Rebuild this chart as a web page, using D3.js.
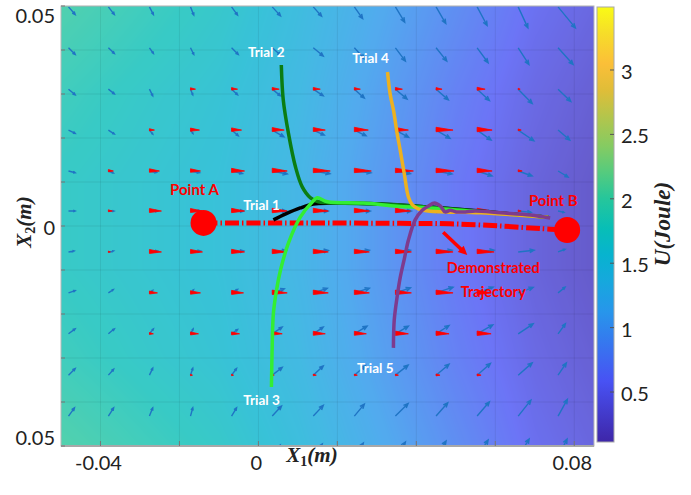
<!DOCTYPE html>
<html>
<head>
<meta charset="UTF-8">
<script src="https://cdn.jsdelivr.net/npm/d3@7/dist/d3.min.js"></script>
<style>
  body { margin: 0; background: #fff; }
  svg { display: block; }
  .tick-label { font-family: Lato, "Open Sans", sans-serif; font-size: 20px; fill: #222; }
  .math { font-family: "Liberation Serif", "DejaVu Serif", serif; font-weight: bold; font-style: italic; fill: #222; }
  .note { font-family: Lato, "Open Sans", sans-serif; font-weight: bold; }
</style>
</head>
<body>
<svg id="chart" width="691" height="495"></svg>
<script>
// ---- axes ----
const xTicks = [-0.04, -0.02, 0, 0.02, 0.04, 0.06, 0.08];
const xTickLabels = ["-0.04", "", "0", "", "", "", "0.08"];
const yTicks = [-0.05, -0.04, -0.03, -0.02, -0.01, 0, 0.01, 0.02, 0.03, 0.04, 0.05];
const yTickLabels = { "0.05": "0.05", "0": "0", "-0.05": "0.05" };
const cTicks = [0.5, 1, 1.5, 2, 2.5, 3];

// ---- potential field U (Joule), sampled on a coarse grid ----
const uGridX = [-0.05, -0.03, -0.01, 0.01, 0.03, 0.05, 0.07, 0.085];
const uGridY = [0.05, 0.03, 0.01, -0.01, -0.03, -0.05];
const uValues = [
  [2.00, 1.85, 1.70, 1.45, 1.15, 0.85, 0.55, 0.42],
  [1.85, 1.72, 1.60, 1.38, 1.05, 0.72, 0.45, 0.32],
  [1.75, 1.65, 1.55, 1.32, 0.98, 0.64, 0.38, 0.25],
  [1.75, 1.65, 1.55, 1.32, 0.98, 0.64, 0.38, 0.25],
  [1.85, 1.72, 1.60, 1.38, 1.05, 0.72, 0.45, 0.32],
  [2.02, 1.87, 1.72, 1.48, 1.17, 0.85, 0.53, 0.40]
];

// ---- quiver grid (blue: learned field, red: demonstration field), components in mm ----
const qCols = [-0.0481, -0.0380, -0.0276, -0.0172, -0.0068, 0.0035, 0.0139, 0.0243, 0.0347, 0.0450, 0.0554, 0.0658, 0.0759];
const qRows = [0.0498, 0.0405, 0.0311, 0.0218, 0.0125, 0.0034, -0.0059, -0.0152, -0.0245, -0.0339, -0.0432, -0.0525];
const blueU = [
  [1.70, 1.52, 1.01, 0.84, 1.52, 2.10, 2.10, 2.10, 2.35, 2.46, 2.53, 2.46, 4.38],
  [1.70, 1.52, 1.01, 0.84, 1.70, 2.15, 2.53, 2.53, 2.53, 2.71, 2.78, 2.71, 3.80],
  [1.70, 1.52, 0.84, 0.58, 1.52, 2.10, 2.53, 2.53, 2.96, 3.11, 3.11, 3.54, 3.22],
  [1.70, 1.52, 0.84, 0.63, 1.70, 2.96, 2.78, 2.96, 3.37, 3.54, 3.54, 3.97, 2.96],
  [1.70, 1.27, 1.77, 2.28, 2.78, 3.80, 4.23, 4.23, 3.80, 4.05, 3.80, 3.54, 2.53],
  [1.70, 1.44, 2.03, 2.53, 3.04, 3.54, 3.80, 4.05, 4.05, 4.05, 3.80, 3.29, 1.50],
  [1.44, 1.34, 2.03, 2.53, 3.04, 3.54, 3.80, 3.80, 3.80, 4.05, 4.30, 4.05, 1.77],
  [1.70, 1.27, 0.84, 0.76, 1.52, 3.04, 3.54, 3.80, 3.80, 4.30, 4.05, 3.80, 1.77],
  [1.70, 1.52, 1.01, 0.68, 1.52, 2.53, 2.53, 3.22, 3.29, 3.29, 3.97, 3.80, 1.85],
  [1.70, 1.34, 0.84, 0.58, 1.27, 2.53, 2.53, 2.78, 3.22, 3.29, 3.37, 3.54, 2.10],
  [1.52, 1.34, 0.84, 0.58, 1.27, 2.35, 2.53, 2.53, 3.22, 2.96, 3.11, 3.22, 2.35],
  [1.27, 1.27, 0.76, 0.51, 1.27, 2.03, 2.28, 2.28, 2.53, 2.53, 2.78, 2.78, 2.28]
];
const blueV = [
  [-1.75, -1.75, -1.75, -1.88, -1.88, -2.04, -2.11, -2.66, -3.47, -3.79, -4.24, -4.77, -4.77],
  [-1.52, -1.29, -1.29, -1.52, -1.52, -1.70, -1.88, -2.50, -3.02, -3.02, -3.40, -3.79, -3.79],
  [-1.29, -1.07, -1.52, -1.29, -1.29, -1.52, -1.52, -2.04, -2.27, -2.43, -2.57, -3.25, -2.79],
  [-0.75, -0.91, -0.91, -0.79, -1.29, -1.52, -1.13, -1.29, -1.66, -1.88, -2.27, -2.43, -2.27],
  [-0.39, -0.45, -0.34, -0.39, -0.57, -0.68, -0.61, -0.39, -0.61, -0.68, -1.13, -1.13, -1.36],
  [0, 0, 0, 0, 0, 0, 0, 0, 0, -0.10, -0.20, -0.30, -0.30],
  [0.23, 0.23, 0.23, 0.23, 0.23, 0.34, 0.34, 0.39, 0.39, 0.39, 0.39, 0.39, 0.61],
  [0.52, 0.75, 0.57, 0.68, 0.79, 0.91, 1.02, 1.07, 1.13, 1.29, 1.29, 1.25, 1.29],
  [1.13, 1.13, 1.13, 1.13, 0.98, 1.52, 1.52, 1.75, 1.75, 1.88, 2.04, 2.27, 2.27],
  [1.52, 1.36, 1.59, 1.59, 1.52, 1.75, 2.11, 2.16, 2.27, 2.50, 2.66, 2.79, 2.79],
  [1.88, 1.88, 1.88, 1.88, 1.88, 2.27, 2.43, 2.72, 2.88, 3.02, 3.25, 3.63, 3.79],
  [2.04, 2.04, 2.04, 2.04, 2.27, 2.72, 2.95, 3.18, 3.40, 3.63, 3.86, 4.09, 4.09]
];
const redU = [
  [0, 0, 0, 0, 0, 0, 0, 0, 0, 0, 0, 0, 0],
  [0, 0, 0, 0, 0, 0, 0, 0, 0, 0, 0, 0, 0],
  [0, 0, 0, 1.27, 1.52, 1.77, 1.77, 1.52, 1.77, 1.52, 2.03, 0.50, 0],
  [0, 0, 1.27, 2.28, 2.53, 3.04, 3.04, 3.54, 3.29, 4.30, 3.80, 0.76, 0],
  [0, 1.27, 2.53, 2.53, 3.29, 3.80, 4.30, 4.30, 4.56, 4.56, 3.80, 1.00, 0],
  [0, 1.00, 3.04, 3.04, 3.29, 3.80, 3.80, 3.80, 3.80, 3.80, 3.80, 0.76, 0],
  [0, 0.50, 3.04, 3.04, 3.29, 3.54, 3.80, 3.80, 4.05, 4.30, 4.30, 0, 0],
  [0, 0, 2.03, 2.53, 3.04, 3.80, 3.80, 3.80, 4.05, 4.30, 3.54, 0, 0],
  [0, 0, 1.00, 2.03, 2.03, 2.53, 3.04, 3.04, 3.29, 3.29, 3.54, 0, 0],
  [0, 0, 0, 0.50, 0.50, 0.50, 0.76, 0.76, 0.76, 1.00, 1.00, 0, 0],
  [0, 0, 0, 0, 0, 0, 0, 0, 0, 0, 0, 0, 0],
  [0, 0, 0, 0, 0, 0, 0, 0, 0, 0, 0, 0, 0]
];

// ---- trajectories ----
const demoX = [-0.0139, 0.0106, 0.0359, 0.0486, 0.0613, 0.0714, 0.0782];
const demoY = [0.0007, 0.0007, 0.0006, 0.0005, 0.0000, -0.0006, -0.0009];
const trial1X = [0.0038, 0.0068, 0.0106, 0.0139, 0.0182, 0.0309, 0.0435, 0.0562, 0.0734];
const trial1Y = [0.0014, 0.0027, 0.0041, 0.0050, 0.0052, 0.0050, 0.0043, 0.0034, 0.0020];
const trial2X = [0.0058, 0.0063, 0.0076, 0.0094, 0.0111, 0.0132, 0.0152, 0.0208, 0.0359, 0.0486, 0.0734];
const trial2Y = [0.0366, 0.0286, 0.0211, 0.0134, 0.0089, 0.0064, 0.0055, 0.0052, 0.0048, 0.0039, 0.0020];
const trial3X = [0.0033, 0.0035, 0.0038, 0.0046, 0.0056, 0.0076, 0.0106, 0.0137, 0.0149, 0.0175, 0.0266, 0.0352, 0.0435, 0.0734];
const trial3Y = [-0.0366, -0.0270, -0.0198, -0.0145, -0.0100, -0.0039, 0.0020, 0.0055, 0.0064, 0.0055, 0.0052, 0.0045, 0.0041, 0.0020];
const trial4X = [0.0327, 0.0334, 0.0342, 0.0352, 0.0359, 0.0370, 0.0380, 0.0390, 0.0405, 0.0430, 0.0473, 0.0562, 0.0734];
const trial4Y = [0.0350, 0.0298, 0.0264, 0.0207, 0.0173, 0.0116, 0.0066, 0.0048, 0.0039, 0.0034, 0.0032, 0.0030, 0.0020];
const trial5X = [0.0342, 0.0344, 0.0352, 0.0359, 0.0370, 0.0380, 0.0397, 0.0415, 0.0430, 0.0446, 0.0461, 0.0473, 0.0486, 0.0501, 0.0524, 0.0549, 0.0613, 0.0689, 0.0739];
const trial5Y = [-0.0277, -0.0214, -0.0157, -0.0118, -0.0073, -0.0032, 0.0014, 0.0036, 0.0045, 0.0052, 0.0045, 0.0032, 0.0036, 0.0032, 0.0032, 0.0034, 0.0030, 0.0025, 0.0018];
const pointA = [-0.0139, 0.0007];
const pointB = [0.0782, -0.0009];

const trials = [
  { x: trial1X, y: trial1Y, color: "#000000" },
  { x: trial2X, y: trial2Y, color: "#0b7d12" },
  { x: trial3X, y: trial3Y, color: "#33ee33" },
  { x: trial4X, y: trial4Y, color: "#edb120" },
  { x: trial5X, y: trial5Y, color: "#7e3b8e" }
];

const labels = [
  { text: "Trial 1", x: 0.0008, y: 0.0048, color: "#fff", size: 13.5 },
  { text: "Trial 2", x: 0.0020, y: 0.0395, color: "#fff", size: 13.5 },
  { text: "Trial 4", x: 0.0284, y: 0.0382, color: "#fff", size: 13.5 },
  { text: "Trial 3", x: 0.0008, y: -0.0395, color: "#fff", size: 13.5 },
  { text: "Trial 5", x: 0.0296, y: -0.0323, color: "#fff", size: 13.5 },
  { text: "Point A", x: -0.0162, y: 0.0084, color: "#ff0000", size: 15 },
  { text: "Point B", x: 0.0747, y: 0.0059, color: "#ff0000", size: 15 },
  { text: "Demonstrated", x: 0.0595, y: -0.0095, color: "#ff0000", size: 14.5 },
  { text: "Trajectory", x: 0.0595, y: -0.0148, color: "#ff0000", size: 14.5 }
];
const pointerFrom = [0.0468, -0.0014];
const pointerTo = [0.0529, -0.0066];

// parula-like colour map (fraction, colour)
const parula = [
  [0.00, "#3e26a8"], [0.14, "#4852f4"], [0.30, "#2796eb"], [0.37, "#16a8dd"],
  [0.43, "#07b3cf"], [0.49, "#07beb7"], [0.56, "#26c69b"], [0.62, "#55cb7e"],
  [0.68, "#85cb62"], [0.75, "#b5c54b"], [0.81, "#e0bd38"], [0.87, "#fbbf38"],
  [0.94, "#f6dd29"], [1.00, "#f9fb15"]
];
const cMin = 0.112, cMax = 3.489;

// ---- layout ----
const svg = d3.select("#chart");
const x = d3.scaleLinear().domain([-0.05, 0.085]).range([61, 594]);
const y = d3.scaleLinear().domain([-0.05, 0.05]).range([446, 6]);
const color = d3.scaleLinear()
  .domain(parula.map(d => cMin + d[0] * (cMax - cMin)))
  .range(parula.map(d => d[1]))
  .interpolate(d3.interpolateRgb)
  .clamp(true);

const defs = svg.append("defs");
defs.append("clipPath").attr("id", "clip")
  .append("rect").attr("x", 61).attr("y", 6).attr("width", 533).attr("height", 440);

// heat map
const pw = 533, ph = 440;
const canvas = document.createElement("canvas");
canvas.width = pw; canvas.height = ph;
const ctx = canvas.getContext("2d");
const img = ctx.createImageData(pw, ph);
const colIdx = d3.scaleLinear().domain(uGridX).range(d3.range(uGridX.length)).clamp(true);
const rowIdx = d3.scaleLinear().domain(uGridY).range(d3.range(uGridY.length)).clamp(true);
for (let j = 0; j < ph; j++) {
  const fr = rowIdx(y.invert(6 + j + 0.5));
  const r0 = Math.min(Math.floor(fr), uGridY.length - 2), tr = fr - r0;
  for (let i = 0; i < pw; i++) {
    const fc = colIdx(x.invert(61 + i + 0.5));
    const c0 = Math.min(Math.floor(fc), uGridX.length - 2), tc = fc - c0;
    const u = (uValues[r0][c0] * (1 - tc) + uValues[r0][c0 + 1] * tc) * (1 - tr) +
              (uValues[r0 + 1][c0] * (1 - tc) + uValues[r0 + 1][c0 + 1] * tc) * tr;
    const c = d3.rgb(color(u));
    const k = (j * pw + i) * 4;
    img.data[k] = c.r; img.data[k + 1] = c.g; img.data[k + 2] = c.b; img.data[k + 3] = 255;
  }
}
ctx.putImageData(img, 0, 0);
svg.append("image")
  .attr("x", 61).attr("y", 6).attr("width", pw).attr("height", ph)
  .attr("opacity", 0.8)
  .attr("href", canvas.toDataURL());

// grid
const grid = svg.append("g").attr("stroke", "#000").attr("stroke-opacity", 0.07).attr("stroke-width", 1);
grid.selectAll(".gx").data(xTicks).join("line")
  .attr("x1", d => x(d)).attr("x2", d => x(d)).attr("y1", 6).attr("y2", 446);
grid.selectAll(".gy").data(yTicks).join("line")
  .attr("y1", d => y(d)).attr("y2", d => y(d)).attr("x1", 61).attr("x2", 594);

// quiver arrows
const field = svg.append("g").attr("clip-path", "url(#clip)");
const cells = [];
qRows.forEach((yv, r) => qCols.forEach((xv, c) => cells.push({ xv, yv, r, c })));

field.append("g").selectAll("path").data(cells).join("path")
  .attr("fill", "none").attr("stroke", "#1f74c4").attr("stroke-width", 1.4)
  .attr("d", d => {
    const x0 = x(d.xv), y0 = y(d.yv);
    const x1 = x(d.xv + blueU[d.r][d.c] * 1e-3), y1 = y(d.yv + blueV[d.r][d.c] * 1e-3);
    const a = Math.atan2(y1 - y0, x1 - x0), L = Math.hypot(x1 - x0, y1 - y0);
    const h = Math.min(0.33 * L, 5), p = 0.4;
    return `M${x0},${y0}L${x1},${y1}` +
      `M${x1 - h * Math.cos(a - p)},${y1 - h * Math.sin(a - p)}L${x1},${y1}` +
      `L${x1 - h * Math.cos(a + p)},${y1 - h * Math.sin(a + p)}`;
  });

field.append("g").selectAll("path").data(cells.filter(d => redU[d.r][d.c] > 0)).join("path")
  .attr("fill", "#ff0000").attr("stroke", "#ff0000").attr("stroke-width", 0.8)
  .attr("stroke-linejoin", "round")
  .attr("d", d => {
    const x0 = x(d.xv), y0 = y(d.yv);
    const x1 = x(d.xv + redU[d.r][d.c] * 1e-3);
    const L = x1 - x0, w = Math.min(0.16 * L + 0.6, 2.8);
    return `M${x0},${y0 - w}L${x1},${y0}L${x0},${y0 + w * 0.6}Z`;
  });

// frame + ticks
svg.append("rect").attr("x", 61).attr("y", 6).attr("width", 533).attr("height", 440)
  .attr("fill", "none").attr("stroke", "#b8b8b8").attr("stroke-width", 1);
svg.append("line").attr("x1", 61).attr("x2", 594).attr("y1", 446).attr("y2", 446)
  .attr("stroke", "#a8a8a8").attr("stroke-width", 2);
const ticks = svg.append("g").attr("stroke", "#777").attr("stroke-width", 1);
ticks.selectAll(".ty").data(yTicks).join("line")
  .attr("x1", 61).attr("x2", 65).attr("y1", d => y(d)).attr("y2", d => y(d));
ticks.selectAll(".tx").data(xTicks).join("line")
  .attr("y1", 446).attr("y2", 441).attr("x1", d => x(d)).attr("x2", d => x(d));

// tick labels
svg.append("g").selectAll("text").data(yTicks.filter(d => yTickLabels[String(d)] !== undefined)).join("text")
  .attr("class", "tick-label").attr("text-anchor", "end").attr("dominant-baseline", "central")
  .attr("x", 55)
  .attr("y", d => y(d) + (d === 0.05 ? 9 : d === -0.05 ? -9 : 1))
  .text(d => yTickLabels[String(d)]);
svg.append("g").selectAll("text").data(xTicks.filter((d, i) => xTickLabels[i])).join("text")
  .attr("class", "tick-label").attr("text-anchor", "middle").attr("dominant-baseline", "central")
  .attr("x", d => x(d) - 2).attr("y", 462)
  .text(d => xTickLabels[xTicks.indexOf(d)]);

// axis titles
const xt = svg.append("text").attr("class", "math").attr("x", 312).attr("y", 462)
  .attr("text-anchor", "middle").attr("font-size", 21);
xt.append("tspan").text("X");
xt.append("tspan").attr("font-size", 14).attr("font-style", "normal").attr("dy", 4).text("1");
xt.append("tspan").attr("dy", -4).text("(m)");
const yt = svg.append("text").attr("class", "math")
  .attr("transform", "translate(31,222) rotate(-90)")
  .attr("text-anchor", "middle").attr("font-size", 21);
yt.append("tspan").text("X");
yt.append("tspan").attr("font-size", 14).attr("font-style", "normal").attr("dy", 4).text("2");
yt.append("tspan").attr("dy", -4).text("(m)");

// demonstrated trajectory
const line = d3.line().x(d => x(d[0])).y(d => y(d[1])).curve(d3.curveCatmullRom);
svg.append("path").datum(demoX.map((v, i) => [v, demoY[i]]))
  .attr("fill", "none").attr("stroke", "#ff0000").attr("stroke-width", 5)
  .attr("stroke-dasharray", "14,3,1.5,3").attr("d", line);

// trials
svg.append("g").selectAll("path").data(trials).join("path")
  .attr("fill", "none").attr("stroke", d => d.color).attr("stroke-width", 3.5)
  .attr("stroke-linejoin", "round")
  .attr("d", d => line(d.x.map((v, i) => [v, d.y[i]])));

// points A and B
svg.append("g").selectAll("circle").data([pointA, pointB]).join("circle")
  .attr("cx", d => x(d[0])).attr("cy", d => y(d[1])).attr("r", 13).attr("fill", "#ff0000");

// pointer arrow
const px0 = x(pointerFrom[0]), py0 = y(pointerFrom[1]), px1 = x(pointerTo[0]), py1 = y(pointerTo[1]);
const pa = Math.atan2(py1 - py0, px1 - px0);
svg.append("line").attr("x1", px0).attr("y1", py0)
  .attr("x2", px1 - 6 * Math.cos(pa)).attr("y2", py1 - 6 * Math.sin(pa))
  .attr("stroke", "#ff0000").attr("stroke-width", 3.5);
svg.append("path").attr("fill", "#ff0000")
  .attr("d", `M${px1},${py1}L${px1 - 10 * Math.cos(pa - 0.45)},${py1 - 10 * Math.sin(pa - 0.45)}` +
    `L${px1 - 10 * Math.cos(pa + 0.45)},${py1 - 10 * Math.sin(pa + 0.45)}Z`);

// annotations
svg.append("g").selectAll("text").data(labels).join("text")
  .attr("class", "note").attr("text-anchor", "middle").attr("dominant-baseline", "central")
  .attr("x", d => x(d.x)).attr("y", d => y(d.y))
  .attr("font-size", d => d.size).attr("fill", d => d.color)
  .text(d => d.text);

// colour bar
const cb = d3.scaleLinear().domain([cMin, cMax]).range([442, 7]);
const grad = defs.append("linearGradient").attr("id", "cbar")
  .attr("x1", 0).attr("y1", 1).attr("x2", 0).attr("y2", 0);
grad.selectAll("stop").data(parula).join("stop")
  .attr("offset", d => d[0]).attr("stop-color", d => d[1]);
svg.append("rect").attr("x", 597).attr("y", 7).attr("width", 17).attr("height", 435)
  .attr("fill", "url(#cbar)").attr("stroke", "#a8a8a8").attr("stroke-width", 1);
svg.append("g").attr("stroke", "#555").selectAll("line").data(cTicks).join("line")
  .attr("x1", 610).attr("x2", 614).attr("y1", d => cb(d)).attr("y2", d => cb(d));
svg.append("g").selectAll("text").data(cTicks).join("text")
  .attr("class", "tick-label").attr("dominant-baseline", "central")
  .attr("x", 621).attr("y", d => cb(d) + 1)
  .text(d => String(d));
const ct = svg.append("text").attr("class", "math")
  .attr("transform", "translate(670,224) rotate(-90)")
  .attr("text-anchor", "middle").attr("font-size", 23);
ct.append("tspan").text("U(Joule)");
</script>
</body>
</html>
